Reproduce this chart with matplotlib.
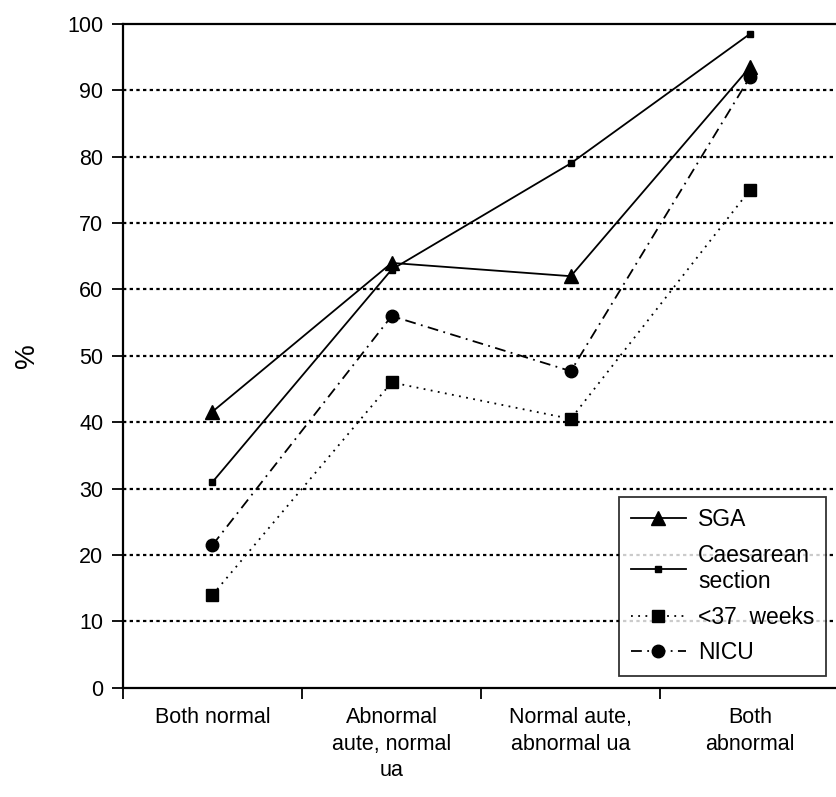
import matplotlib.pyplot as plt
from matplotlib.ticker import FixedLocator

plt.rcParams['font.family'] = ['Liberation Sans', 'DejaVu Sans']

categories = ['Both normal', 'Abnormal\naute, normal\nua', 'Normal aute,\nabnormal ua', 'Both\nabnormal']
sga = [41.6, 64, 62, 93.5]
caesarean = [31, 63, 79, 98.5]
preterm = [14, 46, 40.5, 75]
nicu = [21.5, 56, 47.7, 92]

fig = plt.figure(figsize=(8.36, 7.97), dpi=100)
ax = fig.add_axes([0.147, 0.137, 0.853, 0.833])

x = [i + 0.5 for i in range(len(categories))]
ax.plot(x, sga, color='black', lw=1.3, marker='^', ms=10, label='SGA')
ax.plot(x, caesarean, color='black', lw=1.3, marker='s', ms=5, label='Caesarean\nsection')
ax.plot(x, preterm, color='black', lw=1.3, ls=(0, (1, 3)), marker='s', ms=9, label='<37  weeks')
ax.plot(x, nicu, color='black', lw=1.3, ls=(0, (6, 3, 1, 3)), marker='o', ms=9, label='NICU')

ax.set_ylim(0, 100)
ax.set_xlim(0, 3.98)
ax.set_yticks(range(0, 101, 10))
for v in range(10, 100, 10):
    ax.axhline(v, color='black', lw=1.6, ls=(0, (1.5, 1.5)), zorder=0)

ax.set_xticks(x)
ax.set_xticklabels(categories, fontsize=15.5, linespacing=1.35)
ax.xaxis.set_minor_locator(FixedLocator([0, 1, 2, 3]))
ax.tick_params(axis='x', which='major', length=0, pad=14)
ax.tick_params(axis='x', which='minor', length=8, width=1.3, direction='out')
ax.tick_params(axis='y', length=8, width=1.3, direction='out', labelsize=15.5, pad=6)
ax.set_ylabel('%', fontsize=20, labelpad=20)

ax.spines['right'].set_visible(False)
for s in ['left', 'bottom', 'top']:
    ax.spines[s].set_linewidth(1.6)

leg = ax.legend(loc='lower right', bbox_to_anchor=(0.986, 0.018), borderaxespad=0,
                fontsize=16.5, frameon=True, fancybox=False, edgecolor='black',
                handlelength=2.4, borderpad=0.5, labelspacing=0.55, handletextpad=0.55)
leg.get_frame().set_linewidth(1.3)

fig.savefig('out.png', dpi=100)
